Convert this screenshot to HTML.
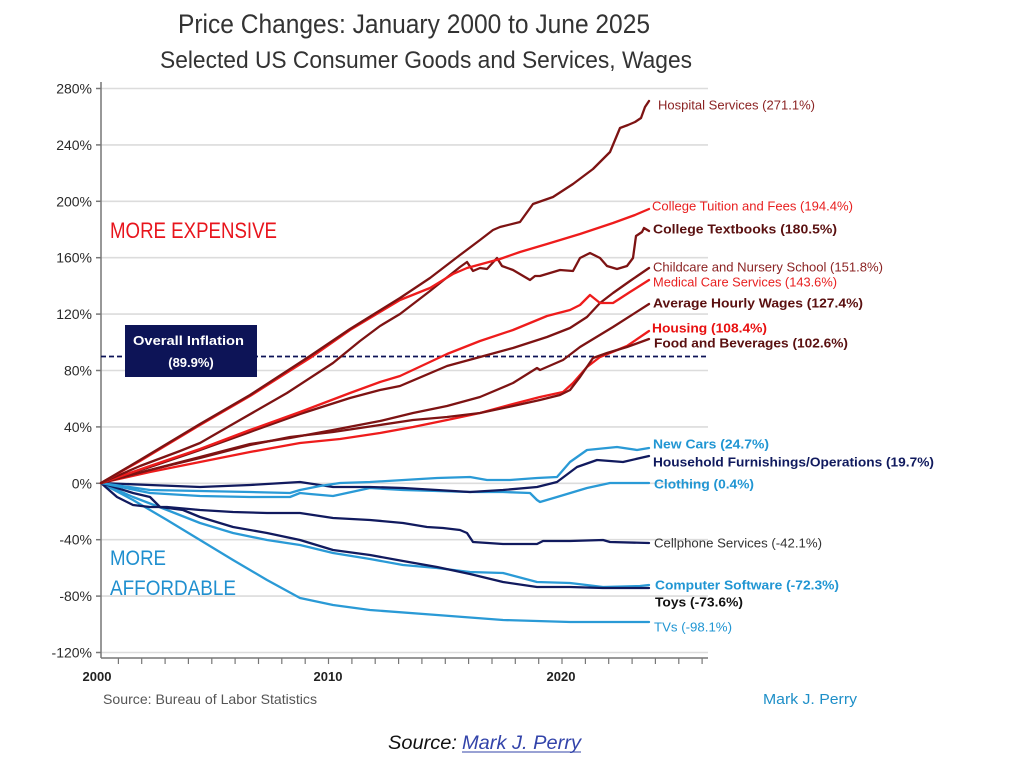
<!DOCTYPE html>
<html>
<head>
<meta charset="utf-8">
<style>
html,body{margin:0;padding:0;background:#fff;}
svg{display:block;}
text{font-family:"Liberation Sans",sans-serif;}
</style>
</head>
<body>
<svg width="1023" height="764" viewBox="0 0 1023 764" xmlns="http://www.w3.org/2000/svg">
<rect x="0" y="0" width="1023" height="764" fill="#fff"/>

<!-- Titles -->
<text x="178" y="33" font-size="27" fill="#333" textLength="472" lengthAdjust="spacingAndGlyphs">Price Changes: January 2000 to June 2025</text>
<text x="160" y="68" font-size="24" fill="#333" textLength="532" lengthAdjust="spacingAndGlyphs">Selected US Consumer Goods and Services, Wages</text>

<!-- Gridlines -->
<g stroke="#dcdcdc" stroke-width="1.6">
<line x1="101" y1="88.5" x2="708" y2="88.5"/>
<line x1="101" y1="144.9" x2="708" y2="144.9"/>
<line x1="101" y1="201.3" x2="708" y2="201.3"/>
<line x1="101" y1="257.7" x2="708" y2="257.7"/>
<line x1="101" y1="314.1" x2="708" y2="314.1"/>
<line x1="101" y1="370.5" x2="708" y2="370.5"/>
<line x1="101" y1="426.9" x2="708" y2="426.9"/>
<line x1="101" y1="483.3" x2="708" y2="483.3"/>
<line x1="101" y1="539.7" x2="708" y2="539.7"/>
<line x1="101" y1="596.1" x2="708" y2="596.1"/>
<line x1="101" y1="652.5" x2="708" y2="652.5"/>
</g>

<!-- Axes -->
<g stroke="#777" stroke-width="1.5">
<line x1="101" y1="82" x2="101" y2="658"/>
<line x1="101" y1="658" x2="708" y2="658"/>
<line x1="96" y1="88.5" x2="101" y2="88.5"/>
<line x1="96" y1="144.9" x2="101" y2="144.9"/>
<line x1="96" y1="201.3" x2="101" y2="201.3"/>
<line x1="96" y1="257.7" x2="101" y2="257.7"/>
<line x1="96" y1="314.1" x2="101" y2="314.1"/>
<line x1="96" y1="370.5" x2="101" y2="370.5"/>
<line x1="96" y1="426.9" x2="101" y2="426.9"/>
<line x1="96" y1="483.3" x2="101" y2="483.3"/>
<line x1="96" y1="539.7" x2="101" y2="539.7"/>
<line x1="96" y1="596.1" x2="101" y2="596.1"/>
<line x1="96" y1="652.5" x2="101" y2="652.5"/>
</g>
<g stroke="#777" stroke-width="1.2">
<line x1="118.4" y1="658" x2="118.4" y2="664"/>
<line x1="141.7" y1="658" x2="141.7" y2="664"/>
<line x1="165.1" y1="658" x2="165.1" y2="664"/>
<line x1="188.4" y1="658" x2="188.4" y2="664"/>
<line x1="211.8" y1="658" x2="211.8" y2="664"/>
<line x1="235.1" y1="658" x2="235.1" y2="664"/>
<line x1="258.5" y1="658" x2="258.5" y2="664"/>
<line x1="281.8" y1="658" x2="281.8" y2="664"/>
<line x1="305.2" y1="658" x2="305.2" y2="664"/>
<line x1="328.5" y1="658" x2="328.5" y2="664"/>
<line x1="351.9" y1="658" x2="351.9" y2="664"/>
<line x1="375.2" y1="658" x2="375.2" y2="664"/>
<line x1="398.6" y1="658" x2="398.6" y2="664"/>
<line x1="421.9" y1="658" x2="421.9" y2="664"/>
<line x1="445.3" y1="658" x2="445.3" y2="664"/>
<line x1="468.6" y1="658" x2="468.6" y2="664"/>
<line x1="492.0" y1="658" x2="492.0" y2="664"/>
<line x1="515.3" y1="658" x2="515.3" y2="664"/>
<line x1="538.7" y1="658" x2="538.7" y2="664"/>
<line x1="562.0" y1="658" x2="562.0" y2="664"/>
<line x1="585.4" y1="658" x2="585.4" y2="664"/>
<line x1="608.7" y1="658" x2="608.7" y2="664"/>
<line x1="632.1" y1="658" x2="632.1" y2="664"/>
<line x1="655.4" y1="658" x2="655.4" y2="664"/>
<line x1="678.8" y1="658" x2="678.8" y2="664"/>
<line x1="702.1" y1="658" x2="702.1" y2="664"/>
</g>

<!-- Y labels -->
<g font-size="14" fill="#2a2a2a" text-anchor="end">
<text x="92" y="93.5">280%</text>
<text x="92" y="149.9">240%</text>
<text x="92" y="206.3">200%</text>
<text x="92" y="262.7">160%</text>
<text x="92" y="319.1">120%</text>
<text x="92" y="375.5">80%</text>
<text x="92" y="431.9">40%</text>
<text x="92" y="488.3">0%</text>
<text x="92" y="544.7">-40%</text>
<text x="92" y="601.1">-80%</text>
<text x="92" y="657.5">-120%</text>
</g>

<!-- X labels -->
<g font-size="13" font-weight="bold" fill="#222" text-anchor="middle">
<text x="97" y="681">2000</text>
<text x="328" y="681">2010</text>
<text x="561" y="681">2020</text>
</g>

<!-- Overall inflation dashed line -->
<line x1="101" y1="356.5" x2="708" y2="356.5" stroke="#0d1457" stroke-width="1.8" stroke-dasharray="5,3"/>

<!-- Series -->
<g fill="none" stroke-width="2.3" stroke-linejoin="round" stroke-linecap="round">
<!-- Blue group -->
<polyline stroke="#2a9ad6" points="101,483 133,500 167,520 200,540 233,560 267,580 300,598 333,605 370,610 437,615 503,620 570,622 649,622"/>
<polyline stroke="#2a9ad6" points="101,483 133,497 167,510 200,523 233,533 267,540 300,545 333,553 370,559 403,565 437,568 470,572 503,573 537,582 570,583 603,587 640,586 649,585"/>
<polyline stroke="#111a5e" points="101,483 133,493 150,497 160,507 183,510 200,517 233,527 267,533 300,540 333,550 370,555 403,561 437,567 470,574 503,582 537,587 570,587 603,588 649,588"/>
<polyline stroke="#111a5e" points="101,483 117,497 133,505 150,507 167,507 200,510 233,512 267,513 300,513 333,518 370,520 403,523 427,527 443,528 460,530 467,533 473,542 503,544 537,544 543,541 570,541 603,540 610,542 649,543"/>
<polyline stroke="#2a9ad6" points="101,483 150,493 200,496 250,497 290,497 300,493 310,494 333,496 370,488 403,490 437,491 470,492 503,492 530,493 537,500 540,502 557,497 587,488 610,483 637,483 649,483"/>
<polyline stroke="#111a5e" points="101,483 150,485 200,487 250,485 300,482 333,487 370,487 403,488 437,490 470,492 503,490 537,487 557,482 577,467 597,460 623,462 649,456"/>
<polyline stroke="#2a9ad6" points="101,483 150,490 200,491 250,492 290,493 300,490 320,486 340,483 370,482 437,478 470,477 487,480 510,480 537,478 557,477 570,462 587,450 617,447 637,450 649,448"/>

<!-- Red group -->
<polyline stroke="#ee1c1c" points="101,483 150,472 200,462 250,452 300,443 340,439 380,433 413,427 447,420 480,413 513,404 540,397 563,392 573,383 587,367 600,357 627,346 649,331"/>
<polyline stroke="#7d1313" points="101,483 150,470 200,458 250,445 290,437 333,432 380,425 413,420 447,417 480,413 513,406 540,400 560,395 570,390 580,377 593,358 607,353 627,347 649,339"/>
<polyline stroke="#7d1313" points="101,483 150,470 200,457 250,444 290,438 333,430 380,421 413,413 447,406 480,397 513,383 537,368 540,370 563,360 580,347 613,327 649,304"/>
<polyline stroke="#7d1313" points="101,483 150,467 200,450 250,432 300,414 350,398 380,390 400,386 447,366 480,357 513,348 547,337 570,328 587,317 600,303 613,293 630,281 649,268"/>
<polyline stroke="#ee1c1c" points="101,483 150,466 200,449 250,430 300,412 350,393 380,382 400,376 447,354 480,341 513,330 547,316 570,310 580,305 590,295 600,303 613,303 630,292 649,280"/>
<polyline stroke="#7d1313" points="101,483 140,466 180,451 200,443 233,424 287,393 333,363 360,341 380,326 400,314 430,291 460,267 467,262 473,271 480,268 487,269 497,258 502,266 513,270 530,280 535,276 540,276 560,270 573,271 580,258 590,253 600,258 607,266 617,269 627,266 633,258 636,236 642,232 644,228 649,231"/>
<polyline stroke="#ee1c1c" points="101,483 140,461 200,425 250,396 310,358 350,330 400,300 430,288 453,274 467,268 500,259 520,252 547,244 580,234 613,223 635,215 649,209"/>
<polyline stroke="#7d1313" points="101,483 140,460 200,424 250,395 310,356 350,329 400,298 430,278 460,255 480,240 493,230 500,227 520,222 533,204 553,197 573,184 593,169 610,152 620,128 628,125 635,122 641,118 645,107 649,101"/>
</g>

<!-- Overall inflation box -->
<rect x="125" y="325" width="132" height="52" fill="#0d1457"/>
<text x="188.5" y="345" font-size="13" font-weight="bold" fill="#fff" text-anchor="middle" textLength="111" lengthAdjust="spacingAndGlyphs">Overall Inflation</text>
<text x="191" y="367" font-size="13" font-weight="bold" fill="#fff" text-anchor="middle">(89.9%)</text>

<!-- Region annotations -->
<text x="110" y="238" font-size="22" fill="#e8141c" textLength="167" lengthAdjust="spacingAndGlyphs">MORE EXPENSIVE</text>
<text x="110" y="565" font-size="21" fill="#1f8fcf" textLength="56" lengthAdjust="spacingAndGlyphs">MORE</text>
<text x="110" y="595" font-size="21" fill="#1f8fcf" textLength="126" lengthAdjust="spacingAndGlyphs">AFFORDABLE</text>

<!-- Series labels -->
<g font-size="13">
<text x="658" y="109.5" fill="#8b2323" textLength="157" lengthAdjust="spacingAndGlyphs">Hospital Services (271.1%)</text>
<text x="652" y="210.5" fill="#e82020" textLength="201" lengthAdjust="spacingAndGlyphs">College Tuition and Fees (194.4%)</text>
<text x="653" y="233.5" fill="#5a1010" font-weight="bold" textLength="184" lengthAdjust="spacingAndGlyphs">College Textbooks (180.5%)</text>
<text x="653" y="271.5" fill="#8b2323" textLength="230" lengthAdjust="spacingAndGlyphs">Childcare and Nursery School (151.8%)</text>
<text x="653" y="286.5" fill="#e82020" textLength="184" lengthAdjust="spacingAndGlyphs">Medical Care Services (143.6%)</text>
<text x="653" y="307.5" fill="#5a1010" font-weight="bold" textLength="210" lengthAdjust="spacingAndGlyphs">Average Hourly Wages (127.4%)</text>
<text x="652" y="332.5" fill="#e81010" font-weight="bold" textLength="115" lengthAdjust="spacingAndGlyphs">Housing (108.4%)</text>
<text x="654" y="347.5" fill="#5a1010" font-weight="bold" textLength="194" lengthAdjust="spacingAndGlyphs">Food and Beverages (102.6%)</text>
<text x="653" y="448.5" fill="#2196d3" font-weight="bold" textLength="116" lengthAdjust="spacingAndGlyphs">New Cars (24.7%)</text>
<text x="653" y="466.5" fill="#101a5e" font-weight="bold" textLength="281" lengthAdjust="spacingAndGlyphs">Household Furnishings/Operations (19.7%)</text>
<text x="654" y="488.5" fill="#2196d3" font-weight="bold" textLength="100" lengthAdjust="spacingAndGlyphs">Clothing (0.4%)</text>
<text x="654" y="547.5" fill="#333" textLength="168" lengthAdjust="spacingAndGlyphs">Cellphone Services (-42.1%)</text>
<text x="655" y="589.5" fill="#2196d3" font-weight="bold" textLength="184" lengthAdjust="spacingAndGlyphs">Computer Software (-72.3%)</text>
<text x="655" y="606.5" fill="#111" font-weight="bold" textLength="88" lengthAdjust="spacingAndGlyphs">Toys (-73.6%)</text>
<text x="654" y="631.5" fill="#2196d3" textLength="78" lengthAdjust="spacingAndGlyphs">TVs (-98.1%)</text>
</g>

<!-- Footer -->
<text x="103" y="704" font-size="14" fill="#555" textLength="214" lengthAdjust="spacingAndGlyphs">Source: Bureau of Labor Statistics</text>
<text x="763" y="704" font-size="15" fill="#1e8fc8" textLength="94" lengthAdjust="spacingAndGlyphs">Mark J. Perry</text>

<text x="388" y="749" font-size="19" font-style="italic" fill="#111" textLength="69" lengthAdjust="spacingAndGlyphs">Source:</text>
<text x="462" y="749" font-size="19" font-style="italic" fill="#3344aa" textLength="119" lengthAdjust="spacingAndGlyphs">Mark J. Perry</text>
<line x1="462" y1="752" x2="581" y2="752" stroke="#3344aa" stroke-width="1"/>
</svg>
</body>
</html>
